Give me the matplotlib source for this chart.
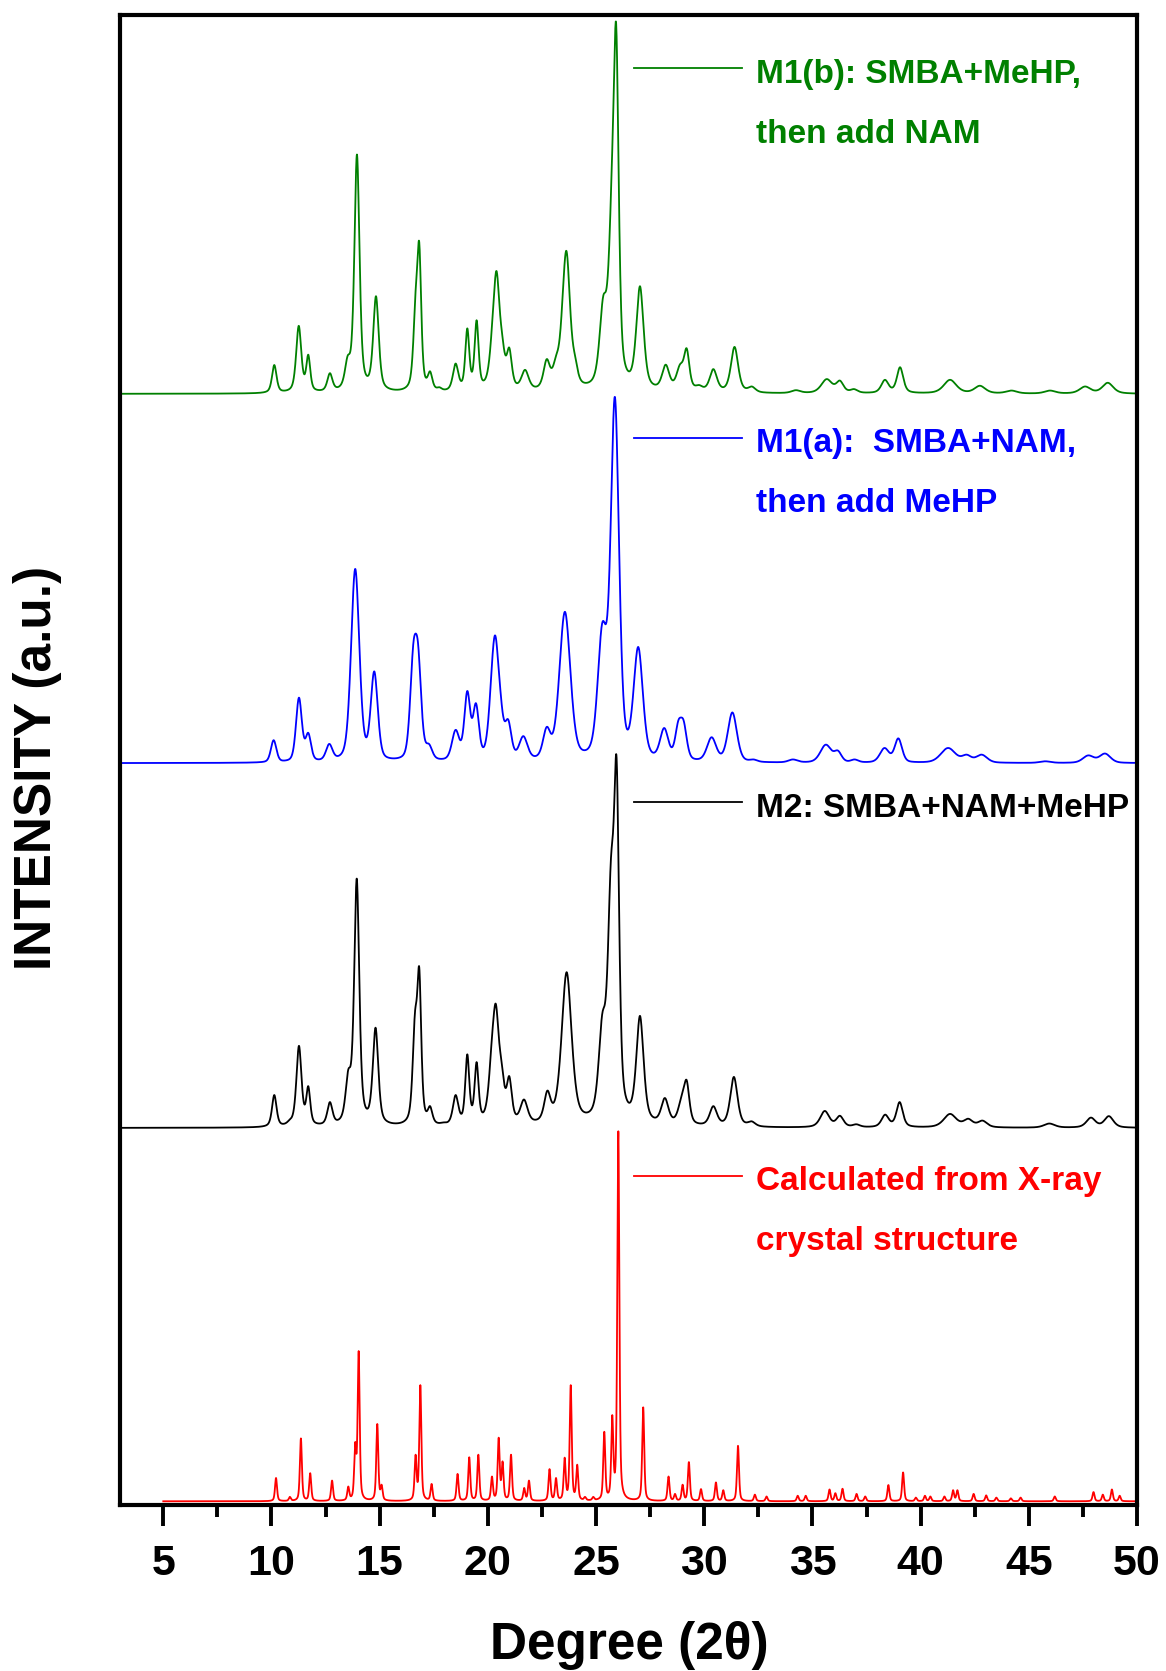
import numpy as np
import matplotlib.pyplot as plt
from matplotlib.ticker import MultipleLocator

plt.rcParams['font.family'] = ['Liberation Sans', 'DejaVu Sans']
plt.rcParams['font.weight'] = 'bold'

# --- peak tables: 2-theta position (deg), apparent height (% of strongest), FWHM (deg) ---

# calculated from single crystal structure
calc_pos = [10.21, 10.85, 11.36, 11.79, 12.80, 13.55, 13.87, 14.03, 14.89, 15.09,
            16.66, 16.88, 17.40, 18.60, 19.14, 19.56, 20.19, 20.50, 20.68, 21.07,
            21.68, 21.90, 22.85, 23.15, 23.55, 23.83, 24.13, 24.49, 24.87, 25.38,
            25.75, 26.03, 27.18, 28.35, 28.65, 29.00, 29.29, 29.85, 30.54, 30.88,
            31.56, 32.34, 32.88, 34.32, 34.69, 35.79, 36.06, 36.39, 37.04, 37.44,
            38.51, 39.19, 39.78, 40.20, 40.45, 41.10, 41.50, 41.70, 42.45, 43.03,
            43.50, 44.17, 44.62, 46.20, 47.99, 48.42, 48.84, 49.20]
calc_height = [6.3, 1.2, 17.0, 7.6, 5.6, 4.0, 16.0, 40.6, 20.9, 4.5,
               12.6, 31.4, 4.7, 7.4, 11.9, 12.6, 6.7, 17.2, 10.8, 12.6,
               3.6, 5.6, 8.7, 6.3, 11.8, 31.4, 9.9, 1.2, 1.2, 18.8,
               23.3, 100.0, 25.4, 6.7, 2.0, 4.5, 10.6, 3.3, 5.1, 3.0,
               15.0, 1.8, 1.3, 1.5, 1.5, 3.2, 2.2, 3.4, 2.0, 1.3,
               4.4, 7.8, 1.0, 1.5, 1.3, 1.3, 3.0, 3.0, 2.0, 1.6,
               1.0, 0.8, 1.0, 1.3, 2.5, 1.8, 3.2, 1.5]
calc_fwhm = [0.11] * len(calc_pos)

# M2: SMBA+NAM+MeHP
m2_pos = [10.13, 10.85, 11.27, 11.70, 12.70, 13.55, 13.94, 14.81, 16.63, 16.83,
          17.33, 17.94, 18.51, 19.05, 19.48, 20.17, 20.37, 20.64, 20.99, 21.67,
          22.75, 23.64, 23.92, 25.29, 25.69, 25.95, 27.03, 28.18, 28.96, 29.19,
          30.42, 31.37, 32.19, 35.57, 36.27, 37.03, 38.36, 39.03, 41.36, 42.20,
          42.86, 45.95, 47.87, 48.70]
m2_height = [8.9, 2.3, 22.2, 11.3, 7.0, 15.8, 67.4, 27.1, 31.2, 43.4,
             5.9, 1.5, 8.9, 19.9, 17.8, 23.0, 33.5, 17.6, 14.0, 7.7,
             10.1, 42.1, 12.0, 31.0, 73.0, 100.0, 30.3, 8.1, 9.0, 12.9,
             5.9, 13.8, 1.8, 4.6, 3.3, 1.0, 3.6, 7.0, 3.8, 2.5,
             2.0, 1.2, 2.8, 3.2]
m2_fwhm = [0.25, 0.30, 0.28, 0.22, 0.28, 0.30, 0.28, 0.30, 0.25, 0.22,
           0.25, 0.30, 0.30, 0.22, 0.22, 0.35, 0.35, 0.30, 0.28, 0.40,
           0.35, 0.55, 0.30, 0.40, 0.35, 0.28, 0.40, 0.40, 0.40, 0.30,
           0.40, 0.40, 0.40, 0.50, 0.40, 0.40, 0.40, 0.35, 0.70, 0.50,
           0.50, 0.60, 0.50, 0.50]

# M1(a): SMBA+NAM, then add MeHP
m1a_pos = [10.10, 11.27, 11.70, 12.67, 13.87, 14.75, 16.55, 16.78, 17.28, 18.51,
           19.05, 19.45, 20.17, 20.34, 20.59, 20.94, 21.64, 22.72, 23.56, 25.29,
           25.87, 26.95, 28.15, 28.80, 29.05, 30.34, 31.30, 32.28, 34.10, 35.62,
           36.18, 36.95, 38.33, 38.97, 41.27, 42.13, 42.82, 45.76, 47.75, 48.52]
m1a_height = [6.2, 17.7, 8.2, 5.2, 52.5, 24.8, 32.0, 32.0, 5.2, 9.0,
              19.5, 16.2, 25.0, 34.5, 19.0, 11.8, 7.3, 9.8, 40.9, 38.0,
              99.0, 31.4, 9.5, 11.5, 11.5, 7.0, 13.7, 1.0, 1.0, 5.0,
              3.4, 1.0, 4.1, 6.7, 4.1, 2.3, 2.3, 0.5, 2.1, 2.6]
m1a_fwhm = [0.30, 0.32, 0.30, 0.35, 0.45, 0.38, 0.35, 0.35, 0.35, 0.40,
            0.32, 0.32, 0.40, 0.40, 0.35, 0.35, 0.45, 0.40, 0.60, 0.50,
            0.45, 0.50, 0.45, 0.35, 0.35, 0.50, 0.50, 0.40, 0.50, 0.60,
            0.40, 0.40, 0.50, 0.40, 0.80, 0.50, 0.60, 0.60, 0.60, 0.60]

# M1(b): SMBA+MeHP, then add NAM
m1b_pos = [10.13, 11.26, 11.70, 12.70, 13.52, 13.95, 14.83, 16.66, 16.83, 17.33,
           17.76, 18.51, 19.05, 19.48, 20.20, 20.40, 20.67, 20.99, 21.72, 22.72,
           23.15, 23.49, 23.64, 24.03, 25.33, 25.72, 25.93, 27.03, 28.22, 28.88,
           29.19, 29.76, 30.42, 31.40, 32.20, 34.24, 35.66, 36.27, 36.92, 38.35,
           39.05, 41.36, 42.74, 44.20, 45.98, 47.60, 48.65]
m1b_height = [7.8, 18.4, 10.6, 5.6, 10.3, 64.7, 26.4, 27.8, 41.0, 6.1,
              1.8, 8.2, 17.7, 19.9, 19.3, 33.2, 15.7, 12.5, 6.5, 9.4,
              10.3, 30.0, 38.5, 10.3, 26.4, 60.0, 100.0, 29.1, 7.9, 8.0,
              12.3, 2.4, 6.7, 12.7, 2.0, 1.0, 4.0, 3.6, 1.3, 3.8,
              7.2, 3.8, 2.2, 0.9, 0.9, 2.0, 3.0]
m1b_fwhm = [0.25, 0.28, 0.22, 0.28, 0.30, 0.28, 0.30, 0.25, 0.22, 0.25,
            0.25, 0.30, 0.22, 0.22, 0.35, 0.35, 0.30, 0.28, 0.40, 0.35,
            0.35, 0.40, 0.40, 0.30, 0.40, 0.35, 0.28, 0.40, 0.40, 0.40,
            0.30, 0.40, 0.40, 0.40, 0.40, 0.50, 0.60, 0.40, 0.40, 0.40,
            0.35, 0.70, 0.60, 0.60, 0.60, 0.60, 0.60]

labels = [["Calculated from X-ray", "crystal structure"],
          ["M2: SMBA+NAM+MeHP"],
          ["M1(a):  SMBA+NAM,", "then add MeHP"],
          ["M1(b): SMBA+MeHP,", "then add NAM"]]
colors = ['#ff0000', '#000000', '#0000ff', '#008000']
offsets = [0.0, 100.9, 199.5, 299.3]


def pvoigt(x, x0, w, eta):
    d = ((x - x0) / w) ** 2
    return eta / (1 + 4 * d) + (1 - eta) * np.exp(-4 * np.log(2) * d)


def pattern(x, pos, height, fwhm, eta=0.5):
    pos = np.asarray(pos, float)
    height = np.asarray(height, float)
    fwhm = np.asarray(fwhm, float)
    # rescale peak amplitudes so the summed curve passes through the read heights
    A = pvoigt(pos[:, None], pos[None, :], fwhm[None, :], eta)
    amp = height.copy()
    for _ in range(300):
        amp *= height / (A @ amp)
    return (amp[None, :] * pvoigt(x[:, None], pos[None, :], fwhm[None, :], eta)).sum(axis=1)


x_calc = np.arange(5, 50.0001, 0.005)
x_exp = np.arange(3, 50.0001, 0.01)

curves = [
    (x_calc, pattern(x_calc, calc_pos, calc_height, calc_fwhm, 0.5)),
    (x_exp, pattern(x_exp, m2_pos, m2_height, m2_fwhm, 0.55)),
    (x_exp, pattern(x_exp, m1a_pos, m1a_height, m1a_fwhm, 0.35)),
    (x_exp, pattern(x_exp, m1b_pos, m1b_height, m1b_fwhm, 0.55)),
]

fig = plt.figure(figsize=(11.66, 16.71), dpi=100)
ax = fig.add_axes([120 / 1166, 1 - 1505 / 1671, 1017 / 1166, 1490 / 1671])

for (xx, yy), off, col, lab in zip(curves, offsets, colors, labels):
    ax.plot(xx, yy + off, color=col, lw=1.3)
    # key line and text beside the main peak
    ax.plot([26.75, 31.74], [off + 88, off + 88], color=col, lw=1.3)
    for i, line in enumerate(lab):
        ax.text(32.39, off + 84 - 16.1 * i, line, color=col, fontsize=24,
                fontweight='bold', ha='left', va='baseline')

ax.set_xlim(3, 50)
ax.set_ylim(-1, 401.7)
ax.set_yticks([])
ax.xaxis.set_major_locator(MultipleLocator(5))
ax.xaxis.set_minor_locator(MultipleLocator(2.5))
ax.tick_params(axis='x', which='major', direction='out', length=15, width=2.8,
               labelsize=31, pad=13)
ax.tick_params(axis='x', which='minor', direction='out', length=8.5, width=2.8)
for lbl in ax.get_xticklabels():
    lbl.set_fontweight('bold')
for sp in ax.spines.values():
    sp.set_linewidth(3)

fig.text(629 / 1166, 1 - 1645 / 1671, 'Degree (2θ)', ha='center', va='center',
         fontsize=37, fontweight='bold')
fig.text(38 / 1166, 1 - 768 / 1671, 'INTENSITY (a.u.)', rotation=90, ha='center',
         va='center', fontsize=37, fontweight='bold')

fig.savefig('out.png', dpi=100)
